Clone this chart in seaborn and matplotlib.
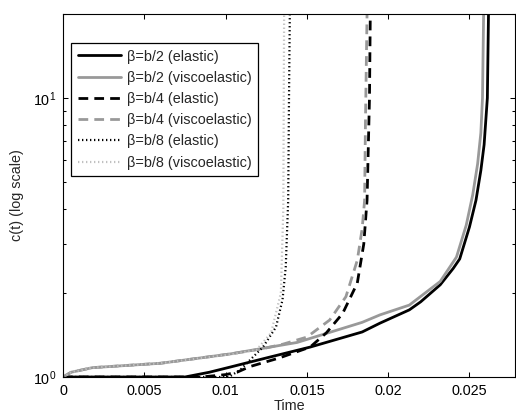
import numpy as np
import pandas as pd
import seaborn as sns
import matplotlib
matplotlib.use("Agg")
import matplotlib.pyplot as plt

# ---- data ----
labels = ["β=b/2 (elastic)", "β=b/2 (viscoelastic)", "β=b/4 (elastic)",
          "β=b/4 (viscoelastic)", "β=b/8 (elastic)", "β=b/8 (viscoelastic)"]

t_b2_el = [0, 0.0075, 0.009, 0.0103, 0.0125, 0.0152, 0.0184, 0.0195, 0.0213, 0.022,
           0.0232, 0.024, 0.0244, 0.025, 0.0254, 0.0257, 0.0259, 0.0261, 0.02617]
c_b2_el = [1, 1, 1.04, 1.086, 1.17, 1.28, 1.45, 1.56, 1.74, 1.86,
           2.14, 2.45, 2.65, 3.45, 4.3, 5.5, 6.8, 10, 20]

t_b2_ve = [0, 0.0005, 0.0018, 0.006, 0.0103, 0.0144, 0.0184, 0.0195, 0.0213, 0.0232,
           0.0242, 0.0248, 0.0252, 0.0255, 0.0257, 0.0258, 0.02587]
c_b2_ve = [1, 1.04, 1.08, 1.12, 1.21, 1.33, 1.57, 1.67, 1.81, 2.2,
           2.69, 3.5, 4.5, 5.8, 7.5, 10, 20]

t_b4_el = [0, 0.0085, 0.0100, 0.0107, 0.0115, 0.0133, 0.0152, 0.0162, 0.0172, 0.0181,
           0.0185, 0.0187, 0.01885, 0.0189]
c_b4_el = [1, 1, 1.02, 1.04, 1.09, 1.17, 1.28, 1.44, 1.69, 2.17,
           3.0, 4.3, 10, 20]

t_b4_ve = [0, 0.0005, 0.0018, 0.006, 0.0103, 0.0122, 0.0135, 0.015, 0.0164, 0.0174,
           0.0181, 0.0184, 0.01855, 0.0186, 0.0187]
c_b4_ve = [1, 1.04, 1.08, 1.12, 1.21, 1.26, 1.31, 1.39, 1.6, 1.94,
           2.62, 3.4, 4.3, 8, 20]

t_b8_el = [0, 0.0102, 0.0109, 0.0115, 0.0123, 0.0131, 0.0135, 0.0137, 0.01385, 0.0139, 0.01395]
c_b8_el = [1, 1, 1.06, 1.15, 1.28, 1.51, 1.89, 2.48, 4.3, 10, 20]

t_b8_ve = [0, 0.0005, 0.0018, 0.006, 0.0105, 0.0119, 0.0128, 0.0134, 0.01355, 0.0136]
c_b8_ve = [1, 1.04, 1.08, 1.12, 1.21, 1.25, 1.44, 2.0, 4.0, 20]

x_ticks = [0, 0.005, 0.01, 0.015, 0.02, 0.025]
x_ticklabels = ["0", "0.005", "0.01", "0.015", "0.02", "0.025"]

series = [(t_b2_el, c_b2_el), (t_b2_ve, c_b2_ve), (t_b4_el, c_b4_el),
          (t_b4_ve, c_b4_ve), (t_b8_el, c_b8_el), (t_b8_ve, c_b8_ve)]

# ---- style ----
sns.set_style("ticks")
plt.rcParams["font.family"] = ["Liberation Sans", "DejaVu Sans"]
plt.rcParams["font.size"] = 10.4
plt.rcParams["mathtext.fontset"] = "custom"
plt.rcParams["mathtext.rm"] = "Liberation Sans"
plt.rcParams["mathtext.it"] = "Liberation Sans:italic"

black = "#000000"
gray = "#999999"
lgray = "#c0c0c0"
dash = (0, (3.5, 2.2))
dot = (0, (0.6, 1.2))
styles = [
    dict(color=black, linestyle="-", linewidth=2.0),
    dict(color=gray, linestyle="-", linewidth=2.0),
    dict(color=black, linestyle=dash, linewidth=2.0),
    dict(color=gray, linestyle=dash, linewidth=2.0),
    dict(color=black, linestyle=dot, linewidth=1.6),
    dict(color=lgray, linestyle=dot, linewidth=1.6),
]

fig = plt.figure(figsize=(5.16, 4.12), dpi=100)
ax = fig.add_axes([63 / 516, 1 - 377 / 412, (515 - 63) / 516, (377 - 14) / 412])

for (t, c), lab, st in zip(series, labels, styles):
    df = pd.DataFrame({"t": t, "c": c})
    sns.lineplot(data=df, x="t", y="c", ax=ax, estimator=None, sort=False,
                 label=lab, **st)

ax.set_yscale("log")
ax.set_xlim(0, 0.0278)
ax.set_ylim(1, 20)
ax.set_xticks(x_ticks)
ax.set_xticklabels(x_ticklabels)
ax.set_yticks([1, 10])
ax.set_yticklabels([r"$\mathdefault{10^{0}}$", r"$\mathdefault{10^{1}}$"])
ax.tick_params(which="both", direction="in", top=True, right=True, width=0.75,
               colors="black", labelsize=10.4)
ax.tick_params(which="major", length=3.5, pad=5)
ax.tick_params(which="minor", length=2.2)
ax.tick_params(axis="x", which="minor", top=False, bottom=False)
for s in ax.spines.values():
    s.set_linewidth(0.8)
    s.set_color("black")
    s.set_visible(True)

ax.set_xlabel("Time", fontsize=10.4, labelpad=1)
ax.set_ylabel("c(t) (log scale)", fontsize=10.4, labelpad=6)

leg = ax.legend(loc="upper left", bbox_to_anchor=(0.0177, 0.92), borderaxespad=0,
                frameon=True, fancybox=False, edgecolor="black", framealpha=1,
                fontsize=10.4, handlelength=3.0, handletextpad=0.4,
                labelspacing=0.5, borderpad=0.45)
leg.get_frame().set_linewidth(0.9)

fig.savefig("out.png", dpi=100)
